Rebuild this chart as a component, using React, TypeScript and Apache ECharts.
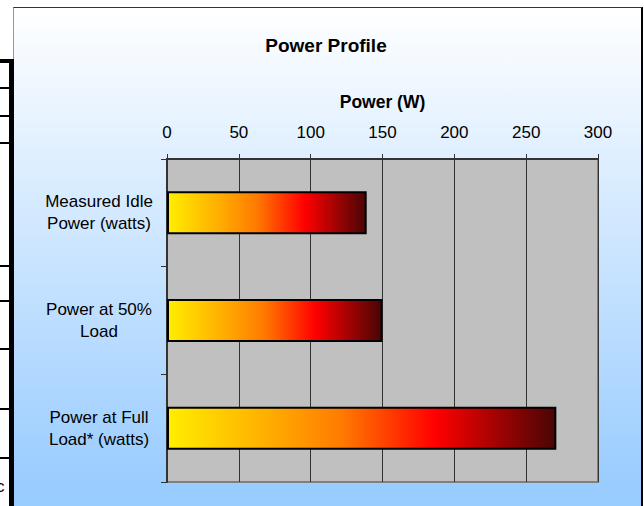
import React, { useEffect, useRef } from "react";
import * as echarts from "echarts";

const categories = ["Measured Idle\nPower (watts)", "Power at 50%\nLoad", "Power at Full\nLoad* (watts)"];
const values = [139, 150, 271];
const xTicks = { min: 0, max: 300, interval: 50 };
const titleText = "Power Profile";
const axisName = "Power (W)";
const tableLines = [60, 88, 116, 143, 266, 301, 349, 409, 458];

const FONT = "Liberation Sans, Arial, sans-serif";

export default function App() {
  const ref = useRef<HTMLDivElement>(null);
  useEffect(() => {
    if (!ref.current) return;
    const chart = echarts.init(ref.current, undefined, { renderer: "svg" });
    const grad = new echarts.graphic.LinearGradient(0, 0, 1, 0, [
      { offset: 0, color: "#ffee00" },
      { offset: 0.25, color: "#ffb000" },
      { offset: 0.45, color: "#ff7a00" },
      { offset: 0.69, color: "#ff0000" },
      { offset: 1, color: "#4a0505" },
    ]);
    chart.setOption({
      animation: false,
      backgroundColor: "transparent",
      textStyle: { fontFamily: FONT },
      graphic: [
        {
          type: "text",
          x: 326,
          y: 45,
          style: {
            text: titleText,
            font: `bold 19px ${FONT}`,
            fill: "#000",
            align: "center",
            verticalAlign: "middle",
          },
        },
      ],
      grid: {
        left: 167,
        right: 46,
        top: 159,
        bottom: 24,
        show: true,
        backgroundColor: "#c0c0c0",
        borderColor: "#808080",
        borderWidth: 2,
      },
      xAxis: {
        type: "value",
        position: "top",
        min: xTicks.min,
        max: xTicks.max,
        interval: xTicks.interval,
        name: axisName,
        nameLocation: "middle",
        nameGap: 48,
        nameTextStyle: { fontFamily: FONT, fontSize: 17.5, fontWeight: "bold", color: "#000" },
        axisLine: { show: true, lineStyle: { color: "#333", width: 2 } },
        axisTick: { show: true, length: 5, lineStyle: { color: "#333", width: 1 } },
        axisLabel: { fontFamily: FONT, fontSize: 17, color: "#000", margin: 18 },
        splitLine: { show: true, lineStyle: { color: "#333", width: 1 } },
      },
      yAxis: {
        type: "category",
        inverse: true,
        data: categories,
        axisLine: { show: true, lineStyle: { color: "#333", width: 2 } },
        axisTick: { show: true, length: 6, lineStyle: { color: "#333", width: 1 } },
        axisLabel: { fontFamily: FONT, fontSize: 17, color: "#000", margin: 68, lineHeight: 22, align: "center" },
        splitLine: { show: false },
      },
      series: [
        {
          type: "bar",
          data: values,
          barWidth: 43,
          itemStyle: { color: grad, borderColor: "#000", borderWidth: 2 },
        },
      ],
    });
    return () => chart.dispose();
  }, []);

  return (
    <div style={{ position: "fixed", left: 0, top: 0, width: 644, height: 506, overflow: "hidden", background: "#fff" }}>
      <div
        style={{
          position: "absolute",
          left: 13,
          top: 7,
          width: 627,
          height: 499,
          background: "linear-gradient(to bottom, #ffffff 0%, #99ccff 96%)",
          borderTop: "1px solid #333",
          borderLeft: "1px solid #999",
          borderRight: "2px solid #000",
        }}
      />
      <div style={{ position: "absolute", left: 9, top: 59, width: 5, height: 447, background: "#000" }} />
      {tableLines.map((y, i) => (
        <div
          key={i}
          style={{ position: "absolute", left: 0, top: y - 1, width: 10, height: i === 0 ? 4 : 2, background: "#000" }}
        />
      ))}
      <div style={{ position: "absolute", left: -4, top: 477, fontFamily: FONT, fontSize: 17, color: "#000" }}>c</div>
      <div ref={ref} style={{ position: "absolute", left: 0, top: 0, width: 644, height: 506 }} />
    </div>
  );
}
